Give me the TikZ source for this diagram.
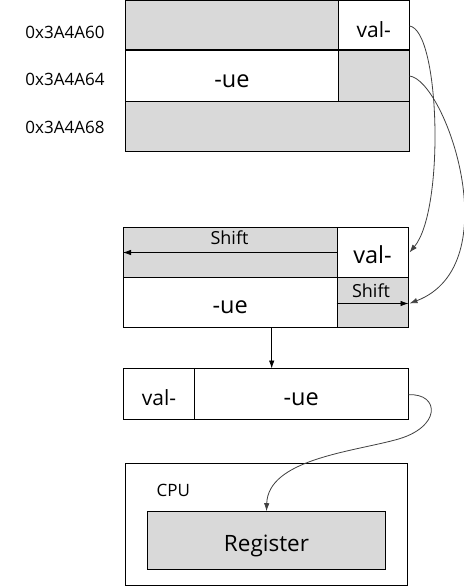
\documentclass[tikz,border=0pt]{standalone}
\usepackage{fontspec}
\setmainfont{Open Sans}
\usetikzlibrary{arrows.meta}
\definecolor{cellgray}{HTML}{D9D9D9}
\definecolor{curvecol}{HTML}{404040}
\tikzset{
  cell/.style={draw=black, line width=1pt, inner sep=0pt, anchor=center, text height=22.5pt, text depth=0pt},
  graycell/.style={cell, fill=cellgray},
  whitecell/.style={cell, fill=white},
  lbl/.style={font=\fontsize{17}{20}\selectfont, inner sep=0pt},
  bigtxt/.style={font=\fontsize{23.5}{28}\selectfont},
  midtxt/.style={font=\fontsize{21}{25}\selectfont},
  smalltxt/.style={font=\fontsize{17}{20}\selectfont},
  shifttxt/.style={font=\fontsize{18}{21}\selectfont, inner sep=0pt},
  tip/.style={-{Latex[length=8pt,width=5.5pt]}},
  curve/.style={tip, draw=curvecol, line width=0.8pt},
  straight/.style={tip, draw=black, line width=0.8pt}
}
\begin{document}
\begin{tikzpicture}[x=1pt,y=-1pt]
\useasboundingbox (0,0) rectangle (463,586);
% top block
\node[graycell, minimum width=213pt, minimum height=50pt] (t1a) at (232,26) {};
\node[whitecell, minimum width=70.5pt, minimum height=50pt, midtxt] (t1b) at (373.75,26) {val-};
\node[whitecell, minimum width=213pt, minimum height=50pt, bigtxt] (t2a) at (232,76) {-ue};
\node[graycell, minimum width=70.5pt, minimum height=50pt] (t2b) at (373.75,76) {};
\node[graycell, minimum width=283.5pt, minimum height=50pt] (t3) at (267.25,126) {};
\draw[line width=2pt] (t2a.north west) -- (t2b.north east);
\node[lbl] (l1) at (65,32.5) {0x3A4A60};
\node[lbl] (l2) at (65,79) {0x3A4A64};
\node[lbl] (l3) at (65,127) {0x3A4A68};
% middle block
\node[graycell, minimum width=213.5pt, minimum height=50pt] (m1a) at (230.25,252.5) {};
\node[whitecell, minimum width=71pt, minimum height=50pt, bigtxt] (m1b) at (372.5,252.5) {val-};
\node[whitecell, minimum width=213.5pt, minimum height=49.5pt, bigtxt] (m2a) at (230.25,302.25) {-ue};
\node[graycell, minimum width=71pt, minimum height=49.5pt] (m2b) at (372.5,302.25) {};
\draw[straight] (m1a.east) -- (m1a.west);
\node[shifttxt] (s1) at (229.5,238) {Shift};
\draw[straight] ([yshift=-1.25pt]m2b.west) -- ([yshift=-1.25pt]m2b.east);
\node[shifttxt] (s2) at (371,290.5) {Shift};
% third block
\node[whitecell, minimum width=71pt, minimum height=50.5pt, midtxt] (b1) at (159,393.75) {val-};
\node[whitecell, minimum width=213.5pt, minimum height=50.5pt, bigtxt] (b2) at (301.25,393.75) {-ue};
\draw[straight] (271.7,327) coordinate (dstart) -- (271.7,368.5) coordinate (dend);
% CPU
\node[whitecell, minimum width=281.6pt, minimum height=121.7pt] (cpu) at (266.5,524.15) {};
\node[smalltxt, inner sep=0pt] (cpul) at (173.3,490.5) {CPU};
\node[graycell, minimum width=238.4pt, minimum height=57.6pt, font=\fontsize{22.5}{27}\selectfont] (reg) at (266.5,540.5) {Register};
% curves
\draw[curve] (t1b.east) .. controls (440,30) and (445,210) .. ([xshift=1pt]m1b.east);
\draw[curve] (t2b.east) .. controls (445,80) and (510,265) .. ([xshift=1pt,yshift=-1.25pt]m2b.east);
\draw[curve] ([yshift=-1pt]b2.east) .. controls (440,393) and (442,428) .. (395,440)
  .. controls (350,452) and (268,460) .. (reg.north);
\end{tikzpicture}
\end{document}
